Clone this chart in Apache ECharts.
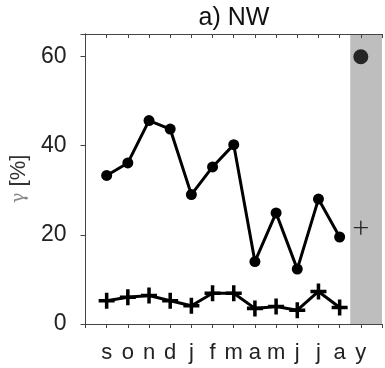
<!DOCTYPE html>
<html><head><meta charset="utf-8">
<script src="https://cdn.jsdelivr.net/npm/echarts@6/dist/echarts.min.js"></script>
<style>html,body{margin:0;padding:0;background:#fff}#c{width:385px;height:368px}</style>
</head><body><div id="c"></div>
<script>
const categories = ['s','o','n','d','j','f','m','a','m','j','j','a','y'];
const circleValues = [33.3, 36.1, 45.6, 43.7, 29.0, 35.2, 40.2, 14.0, 24.9, 12.3, 28.0, 19.5];
const plusValues = [5.2, 6.0, 6.4, 5.2, 4.1, 6.9, 6.9, 3.5, 3.9, 3.1, 7.3, 3.7];
const yearCircle = 59.9;
const yearPlus = 21.6;
const yTicks = [0, 20, 40, 60];

const plusPath = 'path://M0.39,0H0.61V0.39H1V0.61H0.61V1H0.39V0.61H0V0.39H0.39Z';
const thinPlusPath = 'path://M0.45,0H0.55V0.45H1V0.55H0.55V1H0.45V0.55H0V0.45H0.45Z';
const idx = v => v.map((y, i) => [i + 1, y]);
const font = 'Liberation Sans, Arial, sans-serif';
const axisColor = '#444';

const chart = echarts.init(document.getElementById('c'), null, {renderer: 'canvas'});
chart.setOption({
  animation: false,
  title: {text: 'a) NW', left: 229, textAlign: 'center', top: 1,
    textStyle: {fontFamily: font, fontSize: 25, fontWeight: 'normal', color: '#111'}},
  grid: {left: 82, right: 2, top: 34, bottom: 44},
  xAxis: [
    {type: 'value', min: 0, max: 14, interval: 1, position: 'bottom', z: 10,
      axisLine: {show: true, onZero: false, lineStyle: {color: axisColor}},
      axisTick: {show: true, inside: false, length: 4, lineStyle: {color: axisColor}},
      splitLine: {show: false},
      axisLabel: {fontFamily: font, fontSize: 22, color: '#222', margin: 18,
        formatter: v => (v >= 1 && v <= 13) ? categories[v - 1] : ''}},
    {type: 'value', min: 0, max: 14, interval: 1, position: 'top', z: 10,
      axisLine: {show: true, onZero: false, lineStyle: {color: axisColor}},
      axisTick: {show: true, inside: true, length: 4, lineStyle: {color: axisColor}},
      splitLine: {show: false}, axisLabel: {show: false}}
  ],
  yAxis: [
    {type: 'value', min: 0, max: 65, interval: 20, position: 'left', z: 10,
      axisLine: {show: true, lineStyle: {color: axisColor}},
      axisTick: {show: true, inside: false, length: 5, lineStyle: {color: axisColor}},
      splitLine: {show: false},
      axisLabel: {fontFamily: font, fontSize: 23, color: '#222', margin: 19,
        formatter: v => yTicks.includes(v) ? String(v) : ''},
      name: '{g|γ} [%]', nameLocation: 'middle', nameRotate: 90, nameGap: 51,
      nameTextStyle: {fontFamily: font, fontSize: 22, color: '#333',
        rich: {g: {fontSize: 18, color: '#888', fontFamily: 'DejaVu Serif, serif'}}}},
    {type: 'value', min: 0, max: 65, interval: 20, position: 'right', z: 10,
      axisLine: {show: true, lineStyle: {color: axisColor}},
      axisTick: {show: true, inside: true, length: 4, lineStyle: {color: axisColor}},
      splitLine: {show: false}, axisLabel: {show: false}}
  ],
  series: [
    {type: 'line', data: [], xAxisIndex: 0, yAxisIndex: 0, silent: true, z: 1,
      markArea: {silent: true, itemStyle: {color: '#bebebe'},
        data: [[{xAxis: 12.5}, {xAxis: 14}]]}},
    {type: 'line', data: idx(circleValues), symbol: 'circle', symbolSize: 11,
      lineStyle: {color: '#000', width: 3}, itemStyle: {color: '#000'}},
    {type: 'line', data: idx(plusValues), symbol: plusPath, symbolSize: 16,
      lineStyle: {color: '#000', width: 3}, itemStyle: {color: '#000'}},
    {type: 'scatter', data: [[13, yearCircle]], symbol: 'circle', symbolSize: 15,
      itemStyle: {color: '#000'}},
    {type: 'scatter', data: [[13, yearPlus]], symbol: thinPlusPath, symbolSize: 14,
      itemStyle: {color: '#000'}}
  ]
});
</script></body></html>
